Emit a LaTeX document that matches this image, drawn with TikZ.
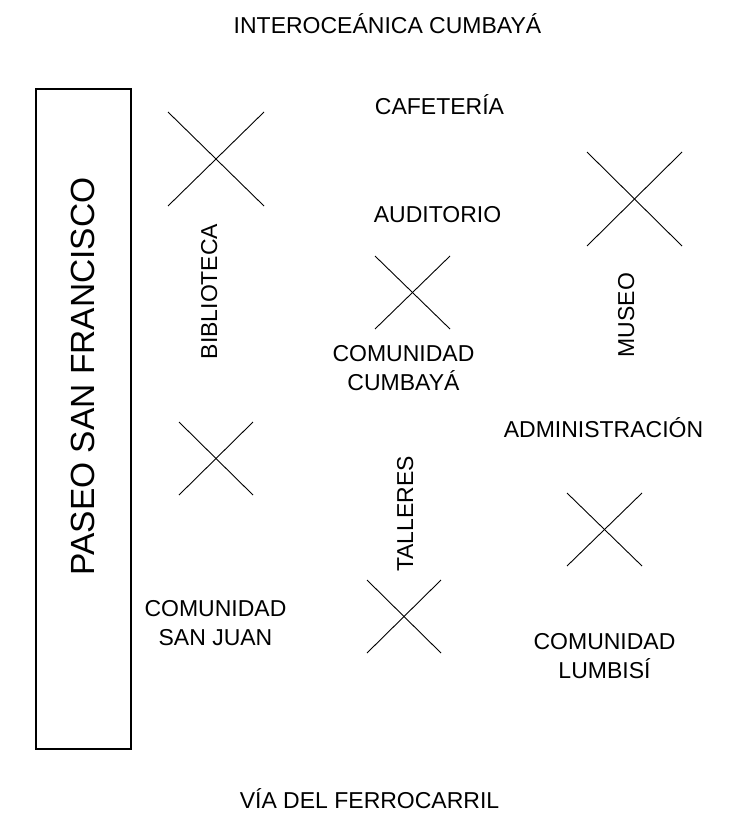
\documentclass[tikz,border=0pt]{standalone}
\usepackage{fontspec}
\setmainfont{Liberation Sans}
\begin{document}
\begin{tikzpicture}[x=1pt,y=-1pt,
  lbl/.style={font=\fontsize{23}{29}\selectfont, inner sep=0pt, align=center},
  big/.style={font=\fontsize{33.5}{40}\selectfont, inner sep=0pt},
  xline/.style={line width=0.9pt, black},
  frame/.style={draw, line width=1.1pt}]
\useasboundingbox (0,0) rectangle (732,816);
% Paseo San Francisco
\draw[frame] (36,89) rectangle (131,749);
\node[big, rotate=90, anchor=base] (paseo) at (94,376.5) {PASEO SAN FRANCISCO};
% crosses
\foreach \xa/\ya/\xb/\yb in {168/112/264/206, 587/152/682/246, 375/256/450/329,
                             179/422/253/495, 567/493/642/566, 367/580/441/653}{
  \draw[xline] (\xa,\ya) -- (\xb,\yb);
  \draw[xline] (\xb,\ya) -- (\xa,\yb);
}
% labels
\node[lbl, anchor=base] (inter) at (387.5,34) {INTEROCEÁNICA CUMBAYÁ};
\node[lbl, anchor=base] (cafe) at (439.5,114) {CAFETERÍA};
\node[lbl, anchor=base] (audi) at (437.5,222) {AUDITORIO};
\node[lbl, anchor=base] (admin) at (603.5,437) {ADMINISTRACIÓN};
\node[lbl, anchor=base] (via) at (369.5,808) {VÍA DEL FERROCARRIL};
\node[lbl, anchor=north] (ccum) at (403.5,345) {COMUNIDAD\\CUMBAYÁ};
\node[lbl, anchor=north] (csj) at (215.5,600) {COMUNIDAD\\SAN JUAN};
\node[lbl, anchor=north] (clum) at (604.5,633) {COMUNIDAD\\LUMBISÍ};
\node[lbl, rotate=90, anchor=base] (bib) at (217,291.5) {BIBLIOTECA};
\node[lbl, rotate=90, anchor=base] (museo) at (634,315) {MUSEO};
\node[lbl, rotate=90, anchor=base] (tall) at (413,514) {TALLERES};
\end{tikzpicture}
\end{document}
